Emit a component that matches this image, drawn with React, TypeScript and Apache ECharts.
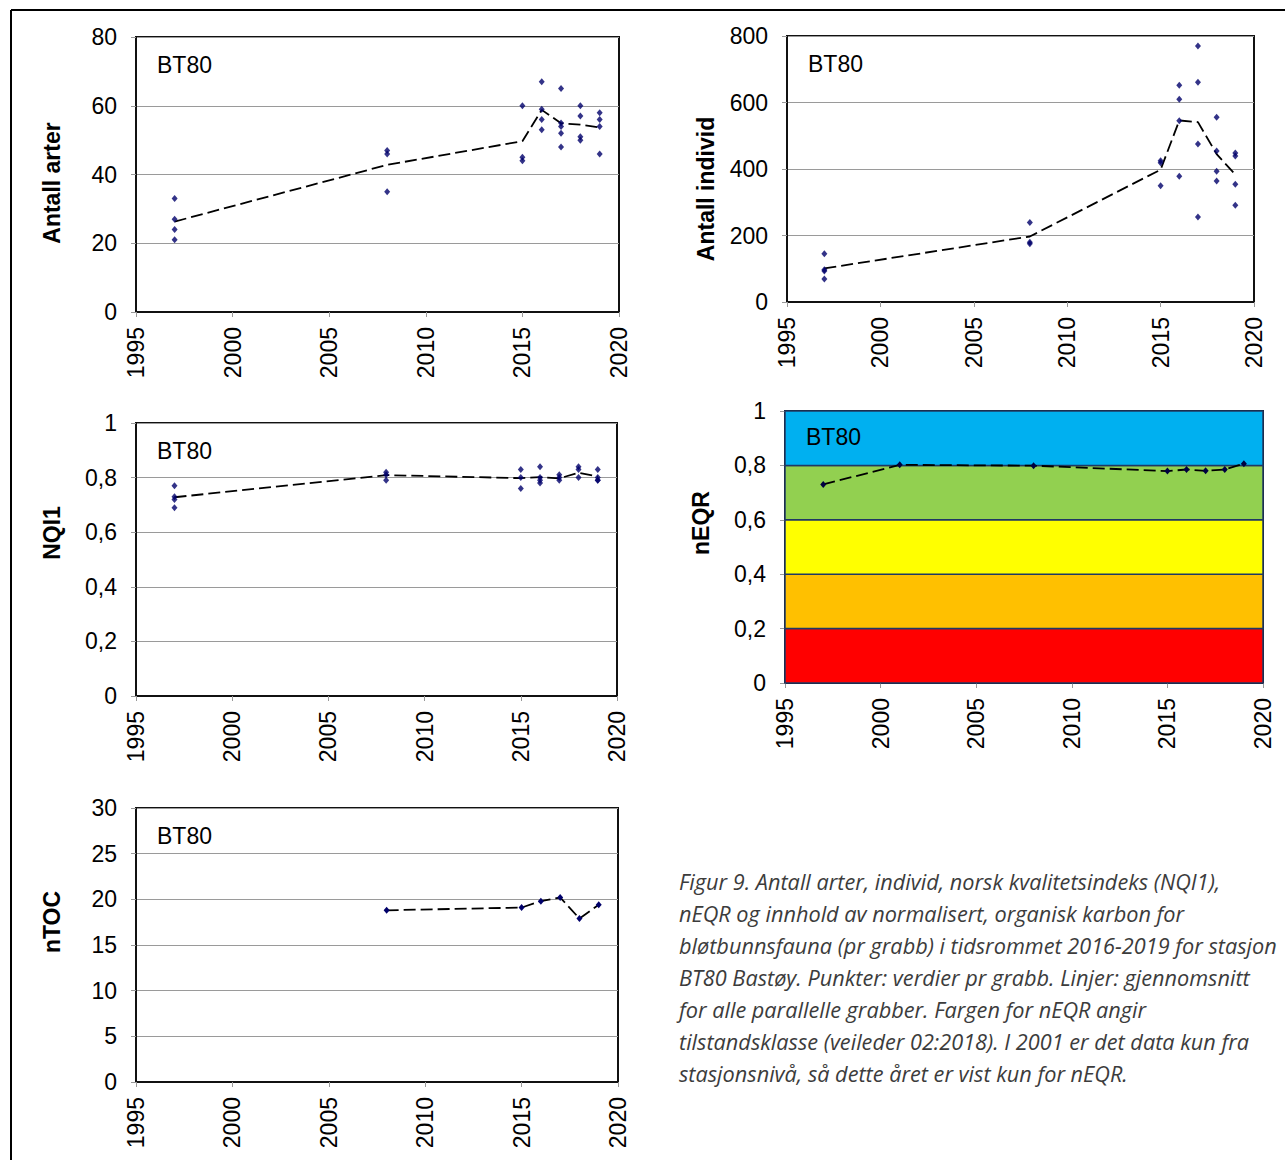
import React, { useEffect, useRef } from "react";
import * as echarts from "echarts";

// ---------- data ----------
const years = [1997, 2008, 2015, 2016, 2017, 2018, 2019];

const arterGrabs = [
  [33, 27, 24, 21],
  [47, 46, 35],
  [60, 45, 44],
  [67, 59, 56, 53],
  [65, 55, 54, 52, 48],
  [60, 57, 51, 50],
  [58, 56, 54, 46],
];
const arterMean = [26.3, 42.8, 49.7, 58.8, 54.9, 54.5, 53.7];

const individGrabs = [
  [145, 97, 93, 69],
  [239, 180, 175],
  [425, 419, 350],
  [652, 610, 545, 378],
  [770, 661, 475, 256],
  [556, 454, 393, 364],
  [448, 439, 354, 291],
];
const individMean = [101, 197, 398, 546, 541, 445, 383];

const nqiGrabs = [
  [0.77, 0.73, 0.72, 0.69],
  [0.82, 0.81, 0.79],
  [0.83, 0.8, 0.76],
  [0.84, 0.8, 0.79, 0.78],
  [0.81, 0.8, 0.79],
  [0.84, 0.83, 0.8],
  [0.83, 0.8, 0.79, 0.79],
];
const nqiMean = [0.728, 0.809, 0.798, 0.802, 0.797, 0.818, 0.804];

const eqrYears = [1997, 2001, 2008, 2015, 2016, 2017, 2018, 2019];
const eqrValues = [0.73, 0.802, 0.799, 0.779, 0.785, 0.78, 0.785, 0.806];

const tocYears = [2008, 2015, 2016, 2017, 2018, 2019];
const tocValues = [18.8, 19.1, 19.8, 20.2, 17.9, 19.4];

const classBounds = [0, 0.2, 0.4, 0.6, 0.8, 1];
const classColors = ["#FF0000", "#FFC000", "#FFFF00", "#92D050", "#00B0F0"];

const yearMin = 1995;
const yearMax = 2020;
const yearStep = 5;

const stationLabel = "BT80";

const captionLines = [
  "Figur 9. Antall arter, individ, norsk kvalitetsindeks (NQI1),",
  "nEQR og innhold av normalisert, organisk karbon for",
  "bløtbunnsfauna (pr grabb) i tidsrommet 2016-2019 for stasjon",
  "BT80 Bastøy. Punkter: verdier pr grabb. Linjer: gjennomsnitt",
  "for alle parallelle grabber. Fargen for nEQR angir",
  "tilstandsklasse (veileder 02:2018). I 2001 er det data kun fra",
  "stasjonsnivå, så dette året er vist kun for nEQR.",
];

// ---------- helpers ----------
const grabPoints = (grabs: number[][]) =>
  years.flatMap((y, i) => grabs[i].map((v) => [y, v]));
const pairs = (xs: number[], vs: number[]) => xs.map((x, i) => [x, vs[i]]);

const FONT = "Liberation Sans";

const panels = [
  { left: 136, top: 37, width: 483, height: 275, min: 0, max: 80, step: 20, comma: false,
    name: "Antall arter", nameX: 52, nameY: 183, bt: [157, 65] },
  { left: 787, top: 36, width: 467, height: 266, min: 0, max: 800, step: 200, comma: false,
    name: "Antall individ", nameX: 706, nameY: 189, bt: [808, 64] },
  { left: 136, top: 423, width: 481, height: 273, min: 0, max: 1, step: 0.2, comma: true,
    name: "NQI1", nameX: 52, nameY: 533, bt: [157, 451] },
  { left: 785, top: 411, width: 478, height: 272, min: 0, max: 1, step: 0.2, comma: true,
    name: "nEQR", nameX: 701, nameY: 523, bt: [806, 437] },
  { left: 136, top: 808, width: 482, height: 274, min: 0, max: 30, step: 5, comma: false,
    name: "nTOC", nameX: 52, nameY: 922, bt: [157, 836] },
];

export default function App() {
  const ref = useRef<HTMLDivElement>(null);

  useEffect(() => {
    if (!ref.current) return;
    const chart = echarts.init(ref.current, undefined, { renderer: "svg" });

    const grid = panels.map((p) => ({
      left: p.left,
      top: p.top,
      width: p.width,
      height: p.height,
      show: true,
      borderColor: "#111",
      borderWidth: 2,
      backgroundColor: "#fff",
    }));

    const xAxis = panels.map((_, i) => ({
      type: "value",
      gridIndex: i,
      min: yearMin,
      max: yearMax,
      interval: yearStep,
      axisLine: { show: true, lineStyle: { color: "#111", width: 2 } },
      axisTick: { show: true, length: 5, lineStyle: { color: "#999", width: 1 } },
      axisLabel: {
        rotate: 90,
        margin: 15,
        fontSize: 23,
        color: "#000",
        fontFamily: FONT,
        formatter: (v: number) => String(Math.round(v)),
      },
      splitLine: { show: false },
    }));

    const yAxis = panels.map((p, i) => ({
      type: "value",
      gridIndex: i,
      min: p.min,
      max: p.max,
      interval: p.step,
      axisLine: { show: true, lineStyle: { color: "#111", width: 2 } },
      axisTick: { show: true, length: 5, lineStyle: { color: "#999", width: 1 } },
      axisLabel: {
        margin: 19,
        fontSize: 23,
        color: "#000",
        fontFamily: FONT,
        formatter: (v: number) => {
          const r = Math.round(v * 100) / 100;
          return p.comma ? String(r).replace(".", ",") : String(r);
        },
      },
      splitLine: { show: true, lineStyle: { color: "#9a9a9a", width: 1 } },
    }));

    const scatterStyle = {
      type: "scatter",
      symbol: "diamond",
      symbolSize: [6, 7],
      itemStyle: { color: "#00006a" },
      z: 4,
    };
    const dash = [12, 5];
    const meanStyle = {
      type: "line",
      showSymbol: false,
      symbol: "none",
      lineStyle: { color: "#000", width: 1.8, type: dash },
      z: 3,
    };

    const series: any[] = [
      { ...scatterStyle, xAxisIndex: 0, yAxisIndex: 0, data: grabPoints(arterGrabs) },
      { ...meanStyle, xAxisIndex: 0, yAxisIndex: 0, data: pairs(years, arterMean) },
      { ...scatterStyle, xAxisIndex: 1, yAxisIndex: 1, data: grabPoints(individGrabs) },
      { ...meanStyle, xAxisIndex: 1, yAxisIndex: 1, data: pairs(years, individMean) },
      { ...scatterStyle, xAxisIndex: 2, yAxisIndex: 2, data: grabPoints(nqiGrabs) },
      { ...meanStyle, xAxisIndex: 2, yAxisIndex: 2, data: pairs(years, nqiMean) },
      {
        type: "line",
        xAxisIndex: 3,
        yAxisIndex: 3,
        data: pairs(eqrYears, eqrValues),
        symbol: "diamond",
        symbolSize: [6, 7],
        showSymbol: true,
        itemStyle: { color: "#000040" },
        lineStyle: { color: "#000", width: 1.8, type: dash },
        z: 5,
        markArea: {
          silent: true,
          data: classColors.map((c, i) => [
            {
              yAxis: classBounds[i],
              itemStyle: { color: c, borderColor: "#1F3864", borderWidth: 1.5 },
            },
            { yAxis: classBounds[i + 1] },
          ]),
        },
      },
      {
        type: "line",
        xAxisIndex: 4,
        yAxisIndex: 4,
        data: pairs(tocYears, tocValues),
        symbol: "diamond",
        symbolSize: [6, 7],
        showSymbol: true,
        itemStyle: { color: "#00006a" },
        lineStyle: { color: "#000", width: 1.8, type: dash },
        z: 5,
      },
    ];

    const graphic: any[] = [
      { type: "line", shape: { x1: 11, y1: 10, x2: 1285, y2: 10 }, style: { stroke: "#000", lineWidth: 2 } },
      { type: "line", shape: { x1: 11, y1: 10, x2: 11, y2: 1160 }, style: { stroke: "#000", lineWidth: 2 } },
    ];
    panels.forEach((p) => {
      graphic.push({
        type: "text",
        x: p.bt[0],
        y: p.bt[1],
        z: 10,
        style: {
          text: stationLabel,
          fontSize: 23,
          fontFamily: FONT,
          fill: "#000",
          textAlign: "left",
          textVerticalAlign: "middle",
        },
      });
      graphic.push({
        type: "text",
        x: p.nameX,
        y: p.nameY,
        rotation: Math.PI / 2,
        z: 10,
        style: {
          text: p.name,
          fontSize: 23,
          fontWeight: "bold",
          fontFamily: FONT,
          fill: "#000",
          textAlign: "center",
          textVerticalAlign: "middle",
        },
      });
    });
    captionLines.forEach((line, i) => {
      graphic.push({
        type: "text",
        x: 679,
        y: 881 + i * 32,
        z: 10,
        style: {
          text: line,
          fontSize: 21.7,
          fontStyle: "italic",
          fontFamily: "Open Sans",
          fill: "#3c3c3c",
          textAlign: "left",
          textVerticalAlign: "middle",
        },
      });
    });

    chart.setOption({
      animation: false,
      backgroundColor: "#fff",
      grid,
      xAxis,
      yAxis,
      series,
      graphic,
    });

    return () => chart.dispose();
  }, []);

  return (
    <div
      ref={ref}
      style={{ position: "absolute", left: 0, top: 0, width: 1285, height: 1160, background: "#fff" }}
    />
  );
}
